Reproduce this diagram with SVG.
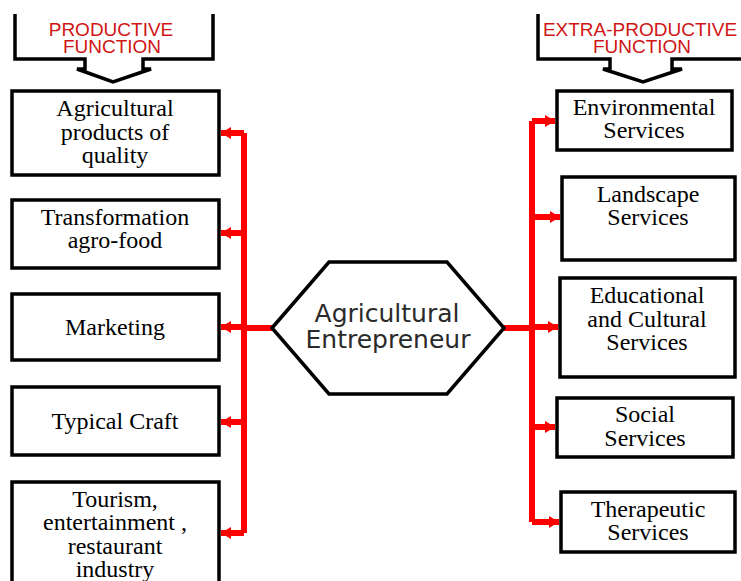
<svg xmlns="http://www.w3.org/2000/svg" width="741" height="581" viewBox="0 0 741 581">
<style>
.box{fill:#fff;stroke:#000;stroke-width:3.5}
.hdr{fill:none;stroke:#000;stroke-width:3.5;stroke-linejoin:miter}
.t{font-family:"Liberation Serif","Times New Roman",serif;font-size:24px;fill:#000;text-anchor:middle}
.h{font-family:"Liberation Sans",Arial,sans-serif;font-size:19px;fill:#d01515;text-anchor:middle}
.hex{font-family:"DejaVu Sans",sans-serif;font-size:25px;fill:#2a2a2a;text-anchor:middle}
.c{fill:none;stroke:#ff0000;stroke-width:6;stroke-linejoin:round}
</style>
<defs>
<marker id="ah" markerUnits="userSpaceOnUse" markerWidth="12" markerHeight="14" refX="10" refY="6" orient="auto">
<path d="M0,0 L10,6 L0,12 Z" fill="#ff0000"/>
</marker>
</defs>
<rect width="741" height="581" fill="#fff"/>
<g id="header-productive">
<path class="hdr" d="M15,14 V59 H85 V69 H77 L113,82 L151,69 H143 V59 H213 V14"/>
<text class="h" x="111" y="36">PRODUCTIVE</text>
<text class="h" x="112" y="53">FUNCTION</text>
</g>
<g id="header-extra">
<path class="hdr" d="M538,14 V59 H610 V69 H603 L643,82 L682,69 H672 V59 H745"/>
<text class="h" x="640" y="36">EXTRA-PRODUCTIVE</text>
<text class="h" x="642" y="53">FUNCTION</text>
</g>
<g id="connectors">
<path class="c" d="M272,328 H244"/>
<path class="c" d="M244,133 V533"/>
<path class="c" d="M244,133 H221" marker-end="url(#ah)"/>
<path class="c" d="M244,233 H221" marker-end="url(#ah)"/>
<path class="c" d="M244,327 H221" marker-end="url(#ah)"/>
<path class="c" d="M244,422 H221" marker-end="url(#ah)"/>
<path class="c" d="M244,533 H221" marker-end="url(#ah)"/>
<path class="c" d="M504,328 H532"/>
<path class="c" d="M532,121 V522"/>
<path class="c" d="M532,121 H555" marker-end="url(#ah)"/>
<path class="c" d="M532,217 H560" marker-end="url(#ah)"/>
<path class="c" d="M532,327 H558" marker-end="url(#ah)"/>
<path class="c" d="M532,427 H555" marker-end="url(#ah)"/>
<path class="c" d="M532,522 H559" marker-end="url(#ah)"/>
</g>
<g id="center">
<polygon class="box" points="272,328 329,262 447,262 504,328 447,394 329,394"/>
<text class="hex" x="387" y="322">Agricultural</text>
<text class="hex" x="388" y="348">Entrepreneur</text>
</g>
<g id="agri-products">
<rect class="box" x="12" y="91" width="207" height="84"/>
<text class="t" x="115" y="116">Agricultural</text>
<text class="t" x="115" y="140">products of</text>
<text class="t" x="115" y="163">quality</text>
</g>
<g id="transformation">
<rect class="box" x="12" y="200" width="207" height="68"/>
<text class="t" x="115" y="225">Transformation</text>
<text class="t" x="115" y="248">agro-food</text>
</g>
<g id="marketing">
<rect class="box" x="12" y="294" width="207" height="66"/>
<text class="t" x="115" y="335">Marketing</text>
</g>
<g id="typical-craft">
<rect class="box" x="12" y="387" width="207" height="68"/>
<text class="t" x="115" y="429">Typical Craft</text>
</g>
<g id="tourism">
<rect class="box" x="12" y="482" width="207" height="110"/>
<text class="t" x="115" y="507">Tourism,</text>
<text class="t" x="115" y="530">entertainment ,</text>
<text class="t" x="115" y="554">restaurant</text>
<text class="t" x="115" y="577">industry</text>
</g>
<g id="environmental">
<rect class="box" x="557" y="91" width="175" height="59"/>
<text class="t" x="644" y="115">Environmental</text>
<text class="t" x="644" y="138">Services</text>
</g>
<g id="landscape">
<rect class="box" x="562" y="177" width="173" height="83"/>
<text class="t" x="648" y="202">Landscape</text>
<text class="t" x="648" y="225">Services</text>
</g>
<g id="educational">
<rect class="box" x="560" y="278" width="175" height="99"/>
<text class="t" x="647" y="303">Educational</text>
<text class="t" x="647" y="327">and Cultural</text>
<text class="t" x="647" y="350">Services</text>
</g>
<g id="social">
<rect class="box" x="557" y="398" width="176" height="59"/>
<text class="t" x="645" y="422">Social</text>
<text class="t" x="645" y="446">Services</text>
</g>
<g id="therapeutic">
<rect class="box" x="561" y="492" width="174" height="60"/>
<text class="t" x="648" y="517">Therapeutic</text>
<text class="t" x="648" y="540">Services</text>
</g>
</svg>
